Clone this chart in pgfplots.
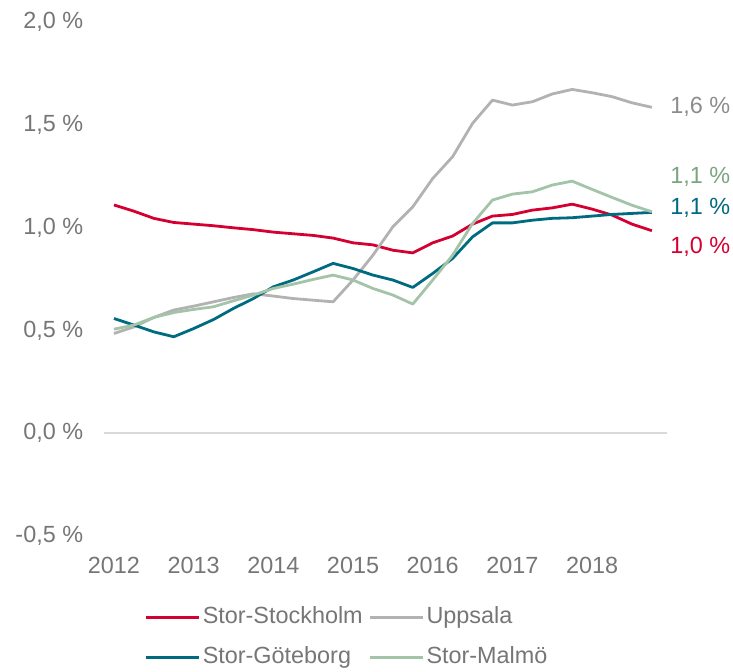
\documentclass[border=0pt]{standalone}
\usepackage{fontspec}
\setmainfont{Liberation Sans}
\usepackage{pgfplots}
\pgfplotsset{compat=1.18}
\definecolor{cRed}{RGB}{213,0,50}
\definecolor{cGray}{RGB}{178,178,178}
\definecolor{cTeal}{RGB}{0,107,128}
\definecolor{cGreen}{RGB}{163,196,168}
\definecolor{cText}{RGB}{118,118,118}
\definecolor{cGrayLab}{RGB}{140,140,140}
\definecolor{cGreenLab}{RGB}{122,165,128}
\definecolor{cZero}{RGB}{217,217,217}
\begin{document}
\begin{tikzpicture}
\path[use as bounding box] (-52pt,-67.5pt) rectangle (314.5pt,268pt);
\begin{axis}[
  scale only axis, width=281.5pt, height=257pt,
  xmin=2011.875, xmax=2018.94, ymin=-0.5, ymax=2.0,
  axis line style={draw=none}, major tick length=0pt,
  clip=false,
  font=\fontsize{11.7}{14}\selectfont,
  xtick={2012,2013,2014,2015,2016,2017,2018},
  xticklabels={2012,2013,2014,2015,2016,2017,2018},
  ytick={-0.5,0,0.5,1,1.5,2},
  yticklabels={{-0,5 \%},{0,0 \%},{0,5 \%},{1,0 \%},{1,5 \%},{2,0 \%}},
  xticklabel style={text=cText, anchor=north, inner sep=0pt, yshift=-10.5pt},
  yticklabel style={text=cText, anchor=east, inner sep=0pt, xshift=-10.25pt},
  extra y ticks={0}, extra y tick labels={},
  extra y tick style={grid=major, major grid style={draw=cZero, line width=1pt}},
  legend columns=2,
  legend cell align=left,
  legend style={draw=none, fill=none, inner sep=0pt, outer sep=0pt,
    at={(axis description cs:0.0728,0)}, anchor=north west, yshift=-34.2pt,
    text=cText, font=\fontsize{11.7}{14}\selectfont,
    nodes={text height=8.5pt, text depth=2.5pt, inner sep=1pt},
    row sep=7pt,
    /tikz/every even column/.append style={column sep=2pt}},
  legend image code/.code={\draw[#1] (0pt,0pt) -- (26.5pt,0pt);},
  every axis plot/.append style={line width=1.4pt, line join=round},
]
\addplot[cRed] coordinates {
(2012.00,1.110) (2012.25,1.080) (2012.50,1.045) (2012.75,1.025)
(2013.00,1.017) (2013.25,1.009) (2013.50,0.999) (2013.75,0.990)
(2014.00,0.978) (2014.25,0.970) (2014.50,0.962) (2014.75,0.949)
(2015.00,0.926) (2015.25,0.916) (2015.50,0.890) (2015.75,0.877)
(2016.00,0.926) (2016.25,0.959) (2016.50,1.017) (2016.75,1.056)
(2017.00,1.064) (2017.25,1.085) (2017.50,1.096) (2017.75,1.114)
(2018.00,1.090) (2018.25,1.061) (2018.50,1.017) (2018.75,0.985)};
\addlegendentry{Stor-Stockholm}
\addplot[cGray] coordinates {
(2012.00,0.485) (2012.25,0.517) (2012.50,0.563) (2012.75,0.599)
(2013.00,0.618) (2013.25,0.639) (2013.50,0.660) (2013.75,0.678)
(2014.00,0.667) (2014.25,0.655) (2014.50,0.647) (2014.75,0.639)
(2015.00,0.745) (2015.25,0.866) (2015.50,1.004) (2015.75,1.101)
(2016.00,1.239) (2016.25,1.345) (2016.50,1.507) (2016.75,1.620)
(2017.00,1.596) (2017.25,1.612) (2017.50,1.650) (2017.75,1.672)
(2018.00,1.656) (2018.25,1.637) (2018.50,1.607) (2018.75,1.585)};
\addlegendentry{Uppsala}
\addplot[cTeal] coordinates {
(2012.00,0.558) (2012.25,0.526) (2012.50,0.493) (2012.75,0.469)
(2013.00,0.509) (2013.25,0.553) (2013.50,0.607) (2013.75,0.655)
(2014.00,0.712) (2014.25,0.745) (2014.50,0.785) (2014.75,0.826)
(2015.00,0.801) (2015.25,0.769) (2015.50,0.745) (2015.75,0.709)
(2016.00,0.777) (2016.25,0.850) (2016.50,0.955) (2016.75,1.023)
(2017.00,1.023) (2017.25,1.036) (2017.50,1.045) (2017.75,1.048)
(2018.00,1.056) (2018.25,1.064) (2018.50,1.069) (2018.75,1.074)};
\addlegendentry{Stor-Göteborg}
\addplot[cGreen] coordinates {
(2012.00,0.506) (2012.25,0.526) (2012.50,0.563) (2012.75,0.587)
(2013.00,0.602) (2013.25,0.615) (2013.50,0.644) (2013.75,0.672)
(2014.00,0.704) (2014.25,0.725) (2014.50,0.748) (2014.75,0.769)
(2015.00,0.745) (2015.25,0.704) (2015.50,0.672) (2015.75,0.628)
(2016.00,0.745) (2016.25,0.866) (2016.50,1.020) (2016.75,1.134)
(2017.00,1.163) (2017.25,1.174) (2017.50,1.207) (2017.75,1.226)
(2018.00,1.186) (2018.25,1.147) (2018.50,1.109) (2018.75,1.077)};
\addlegendentry{Stor-Malmö}
\node[anchor=west, inner sep=0pt, xshift=9pt, text=cGrayLab] at (axis cs:2018.75,1.586) {1,6 \%};
\node[anchor=west, inner sep=0pt, xshift=9pt, text=cGreenLab] at (axis cs:2018.75,1.246) {1,1 \%};
\node[anchor=west, inner sep=0pt, xshift=9pt, text=cTeal] at (axis cs:2018.75,1.095) {1,1 \%};
\node[anchor=west, inner sep=0pt, xshift=9pt, text=cRed] at (axis cs:2018.75,0.905) {1,0 \%};
\end{axis}
\end{tikzpicture}
\end{document}
